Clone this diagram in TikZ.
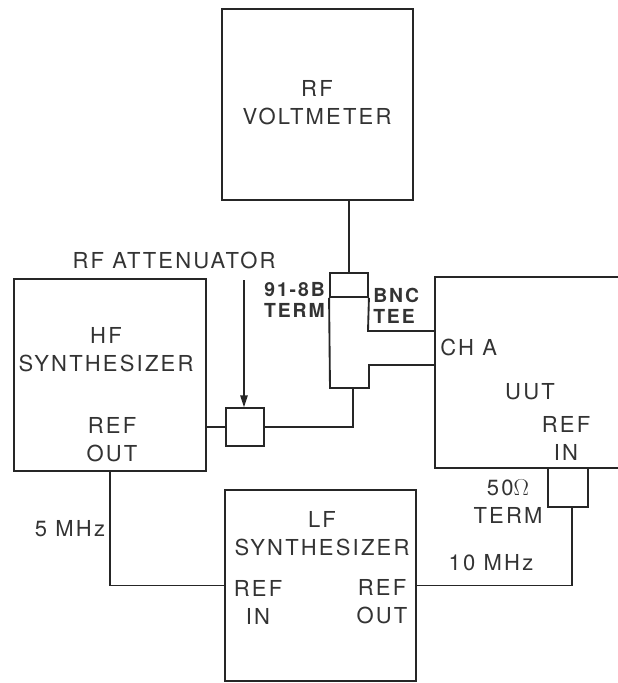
\documentclass[tikz,border=0pt]{standalone}
\usepackage{fontspec}
\setmainfont{TeX Gyre Heros}
\newfontfamily\labelfont{TeX Gyre Heros}[LetterSpace=10]
\usepackage{tikz}
\usetikzlibrary{
  arrows.meta,
  positioning,
  calc
}

\tikzset{
  unit/.style={draw=black!85, line width=1.4pt, inner sep=0pt, minimum width=143.5pt, minimum height=143.5pt},
  smallbox/.style={draw=black!85, line width=1.4pt, inner sep=0pt, minimum width=28pt, minimum height=28pt},
  wire/.style={draw=black!85, line width=1.4pt},
  lbl/.style={font=\labelfont\fontsize{16.5}{21}\selectfont, text=black!80, align=center, inner sep=0pt},
  tag/.style={font=\labelfont\bfseries\fontsize{14.5}{15.75}\selectfont, text=black!80, inner sep=0pt}
}

\begin{document}
\begin{tikzpicture}[x=0.75pt, y=-0.75pt]
  \useasboundingbox (0,0) rectangle (618,683);
  % instruments
  \node[unit] (volt) at (317.5,104.5) {};
  \node[unit] (hfsyn) at (110,375) {};
  \node[unit] (uut) at (531,372.5) {};
  \node[unit] (lfsyn) at (320.5,585.5) {};
  % attenuator and terminations
  \node[smallbox] (atten) at (245,427) {};
  \node[smallbox, minimum width=28.5pt, minimum height=18pt] (term) at (349,285) {};
  \node[smallbox, minimum width=30pt, minimum height=29pt] (load) at (568,487.5) {};
  % BNC tee body
  \draw[wire] (term.south west) -- (330,388) -- (369,388) -- (369,365) -- (uut.west |- 0,365);
  \draw[wire] (term.south east) -- (368,331) -- (uut.west |- 0,331);
  \coordinate (teeout) at (353,388);
  % labels in boxes
  \node[lbl] (voltname) at (317,103) {RF\\VOLTMETER};
  \node[lbl] (hfname) at (106,350) {HF\\SYNTHESIZER};
  \node[lbl] (hfref) at (112,440) {REF\\OUT};
  \node[lbl] (lfname) at (322,534) {LF\\SYNTHESIZER};
  \node[lbl] (lfrefin) at (258,602) {REF\\IN};
  \node[lbl] (lfrefout) at (382,602) {REF\\OUT};
  \node[lbl, anchor=west] (cha) at (440,347) {CH A};
  \node[lbl] (uutname) at (530,392) {UUT};
  \node[lbl] (uutref) at (566,438) {REF\\IN};
  % labels outside
  \node[lbl] (attname) at (174,260) {RF ATTENUATOR};
  \node[tag, anchor=east] (termtop) at (325,290) {91-8B};
  \node[tag, anchor=east] (termbot) at (325,310) {TERM};
  \node[tag, anchor=west] (teetop) at (373,295) {BNC};
  \node[tag, anchor=west] (teebot) at (373,316) {TEE};
  \node[lbl] (loadname) at (508,502) {50$\Omega$\\TERM};
  \node[lbl] (fivemhz) at (70,529) {5 MHz};
  \node[lbl] (tenmhz) at (491,563) {10 MHz};
  % connections
  \draw[wire] (term.north) -- (term.north |- volt.south);
  \draw[wire] (teeout) |- (atten.east);
  \draw[wire] (atten.west) -- (atten.west -| hfsyn.east);
  \draw[wire, line width=1.1pt, -{Triangle[length=9pt, width=5.5pt]}] (244,280) -- (atten.north -| 244,0);
  \draw[wire] (hfsyn.south) |- (lfsyn.west);
  \draw[wire] (572,507) |- (lfsyn.east);
\end{tikzpicture}
\end{document}
